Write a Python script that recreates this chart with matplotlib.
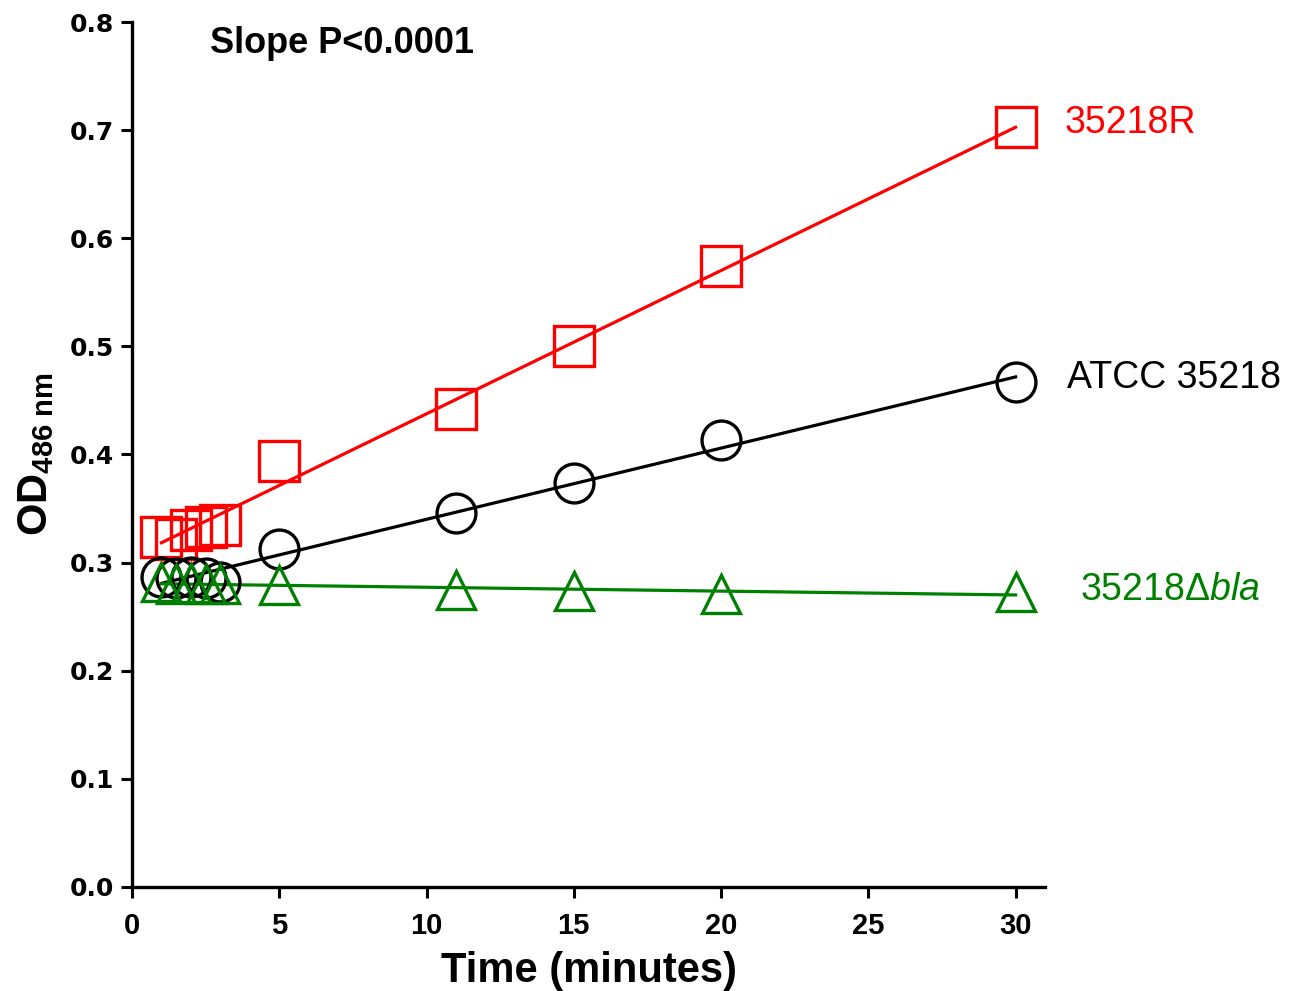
import numpy as np
import matplotlib
matplotlib.use("Agg")
import matplotlib.pyplot as plt

plt.rcParams['font.family'] = ['Liberation Sans', 'DejaVu Sans']
plt.rcParams['mathtext.fontset'] = 'custom'
plt.rcParams['mathtext.rm'] = 'Liberation Sans'
plt.rcParams['mathtext.it'] = 'Liberation Sans:italic'
plt.rcParams['mathtext.bf'] = 'Liberation Sans:bold'

time = [1, 1.5, 2, 2.5, 3, 5, 11, 15, 20, 30]
od_35218R = [0.324, 0.322, 0.330, 0.333, 0.335, 0.394, 0.442, 0.500, 0.574, 0.703]
od_atcc = [0.287, 0.286, 0.287, 0.286, 0.282, 0.313, 0.346, 0.374, 0.413, 0.467]
od_dbla = [0.282, 0.280, 0.281, 0.280, 0.280, 0.279, 0.275, 0.274, 0.271, 0.273]

series = [
    (od_35218R, 's', 'red'),
    (od_atcc, 'o', 'black'),
    (od_dbla, '^', 'green'),
]

fig = plt.figure(figsize=(12.99, 9.91), dpi=100)
ax = fig.add_axes([0.1016, 0.105, 0.7029, 0.8728])

t = np.array(time)
for vals, mk, col in series:
    v = np.array(vals)
    k, b = np.polyfit(t, v, 1)
    xs = np.array([t.min(), t.max()])
    ax.plot(xs, k * xs + b, color=col, lw=2.3, zorder=2)
    ms = {'s': 29, 'o': 28, '^': 28}[mk]
    ax.plot(t, v, linestyle='none', marker=mk, markersize=ms,
            markerfacecolor='none', markeredgecolor=col, markeredgewidth=2.4, zorder=3)

ax.set_xlim(0, 31)
ax.set_ylim(0, 0.8)
ax.set_xticks([0, 5, 10, 15, 20, 25, 30])
ax.set_yticks(np.arange(0, 0.81, 0.1))
ax.set_yticklabels([f"{v:.1f}" for v in np.arange(0, 0.81, 0.1)])
for s in ['top', 'right']:
    ax.spines[s].set_visible(False)
for s in ['left', 'bottom']:
    ax.spines[s].set_linewidth(2.4)
ax.tick_params(direction='out', length=8, width=2.2)
ax.tick_params(axis='x', labelsize=21, pad=10)
ax.tick_params(axis='y', labelsize=18, pad=5)
for lab in ax.get_xticklabels():
    lab.set_fontweight('bold')
for lab in ax.get_yticklabels():
    lab.set_fontweight('bold')
    lab.set_family('DejaVu Sans')

ax.set_xlabel('Time (minutes)', fontsize=30, fontweight='bold', labelpad=8)
ax.set_ylabel(r'OD$_{\mathbf{486\ nm}}$', fontsize=30, fontweight='bold', labelpad=10)

ax.text(2.65, 0.78, 'Slope P<0.0001', fontsize=26, fontweight='bold', va='center', ha='left')

fig.text(1065/1299, 1 - 123/991, '35218R', color='red', fontsize=27, va='center', ha='left')
fig.text(1067/1299, 1 - 378/991, 'ATCC 35218', color='black', fontsize=27, va='center', ha='left')
fig.text(1080/1299, 1 - 590/991, r'35218$\Delta\mathit{bla}$', color='green', fontsize=27, va='center', ha='left')

fig.savefig('out.png', dpi=100)
